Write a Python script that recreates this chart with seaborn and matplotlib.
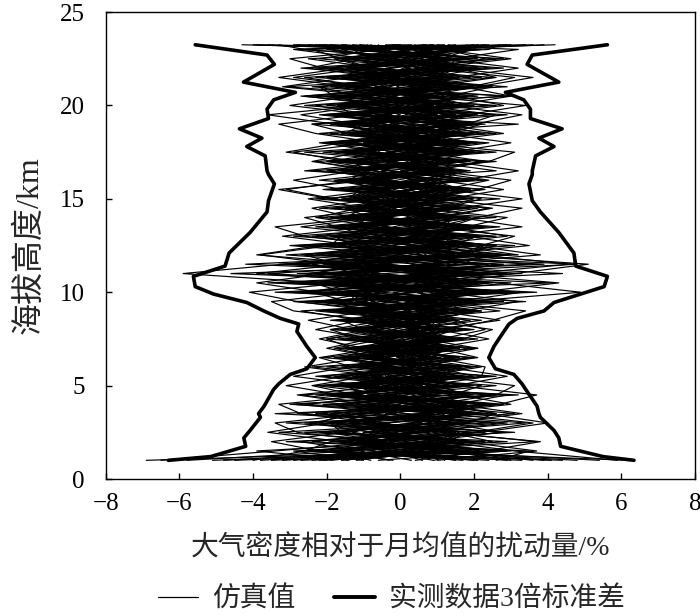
import numpy as np
import pandas as pd
import matplotlib
matplotlib.use("Agg")
import matplotlib.pyplot as plt
from matplotlib.lines import Line2D
import seaborn as sns

# ---------------- data ----------------
alt = [1.0, 1.5, 2.0, 2.5, 3.0, 3.5, 4.0, 4.5, 5.0, 5.5, 6.0, 6.5, 7.0, 7.5, 8.0, 8.5,
       9.0, 9.5, 10.0, 10.5, 11.0, 11.5, 12.0, 12.5, 13.0, 13.5, 14.0, 14.5, 15.0, 15.5,
       16.0, 16.5, 17.0, 17.5, 18.0, 18.5, 19.0, 19.5, 20.0, 20.5, 21.0, 21.5, 22.0, 22.5,
       23.0, 23.25]

run_01 = [-3.2, 1.1, -0.8, 1.9, -1.4, 0.6, 2.2, -0.9, 1.3, -1.6, 0.4, -0.7, 1.2, -0.3, 0.8, -1.5,
          1.9, -2.4, 3.1, -1.2, 2.6, -3.0, 0.9, 1.8, -1.7, 0.5, 1.4, -1.0, 0.3, 1.9, -0.6, 0.9,
          -1.8, 1.2, -0.4, 2.3, -1.1, 0.7, -2.6, 1.0, -0.5, 1.6, -1.3, 0.4, 2.1, -2.8]
run_02 = [4.1, -2.0, 1.5, -0.4, 2.7, -1.8, 0.3, 1.6, -2.1, 0.9, -1.1, 1.4, -0.2, 1.0, -1.3, 0.6,
          -1.2, 2.8, -3.4, 1.7, -4.6, 2.2, -1.5, -0.8, 2.3, -1.2, 0.2, 1.6, -1.9, -0.3, 1.1, -1.4,
          0.6, -2.1, 1.9, -0.5, 3.2, -1.6, 0.8, -1.0, 2.4, -0.7, 0.9, -2.2, -0.6, 3.4]
run_03 = [-5.8, -1.3, 2.9, -2.2, 0.4, 1.7, -2.6, 0.2, 0.7, 2.4, -0.6, 0.1, -1.4, 1.6, 0.2, 2.2,
          -0.4, -1.1, 1.6, -2.9, 3.3, -0.6, 2.5, -2.8, 0.8, 1.9, -1.6, 0.4, 1.2, -2.1, 0.5, 1.7,
          -0.9, 0.3, -1.5, 1.1, -0.2, 2.9, -1.7, 0.4, -3.1, 0.8, 2.2, -0.9, 1.0, -1.6]
run_04 = [2.6, 3.5, -1.9, 0.8, -3.1, 2.4, -0.5, -2.7, 1.9, -0.4, 1.6, -1.3, 0.6, -0.9, 1.7, -0.2,
          2.7, 0.6, -2.2, 4.1, -1.6, 1.2, -2.3, 0.7, -2.9, 0.6, 1.8, -0.7, -1.3, 1.0, -2.2, 0.2,
          1.4, -0.8, 0.6, -1.9, 1.7, -0.6, 2.0, -2.4, 0.9, -1.8, -0.2, 1.7, -1.5, 0.7]
run_05 = [-1.4, -3.9, 0.6, 2.7, 1.3, -0.9, 1.5, 2.9, -0.8, 1.2, -2.0, 0.9, -0.6, 2.1, -1.0, 0.4,
          -2.3, 1.4, 0.4, -1.8, 2.0, -4.2, 1.3, 2.6, -0.9, -1.7, 0.9, 2.4, -0.4, 1.3, -1.1, -0.5,
          2.6, -1.4, 0.2, 0.9, -2.4, 1.3, -0.7, 2.8, -1.2, 0.3, -2.7, 1.2, 0.5, -4.0]
run_06 = [5.4, 0.7, -1.2, -1.0, 2.0, -2.8, 0.9, -1.4, 0.3, -2.3, 0.8, -0.1, 1.9, -1.4, 0.5, -0.9,
          0.8, -2.6, 2.4, 0.3, -2.8, 3.5, -0.4, -1.6, 1.6, -0.3, -1.9, 1.1, 2.0, -0.8, 1.5, -2.6,
          -0.3, 1.9, -1.0, 1.5, 0.3, -2.2, 1.4, -0.3, 1.5, -2.3, 1.1, -0.1, -2.0, 2.0]
run_07 = [-2.1, 2.2, 0.2, -3.3, 1.0, 0.9, -1.6, 1.1, -1.5, 0.6, 2.2, -1.6, 0.9, 0.3, -0.7, 1.3,
          -1.8, 1.0, -0.7, 2.5, -1.1, -2.4, 3.0, 0.4, -0.4, 2.4, -0.8, -1.5, 0.7, 2.2, -0.4, 0.8,
          -1.3, 0.5, 2.4, -1.2, -0.6, 0.9, -2.0, 1.6, 0.2, 2.5, -0.8, -1.6, 1.8, 1.3]
run_08 = [0.9, -0.6, 3.7, 1.2, -2.2, -1.5, 2.8, -0.3, 2.6, -1.1, -0.3, 2.0, -1.2, 0.8, 1.1, -1.9,
          1.1, -0.2, 2.9, -3.6, 1.4, 0.5, -3.1, 1.5, 1.1, -2.3, 0.6, -0.2, 1.6, -1.5, 2.3, -0.8,
          0.4, -2.6, 1.3, -0.1, 1.1, -1.3, 2.6, -1.2, -2.2, 1.2, 0.4, 2.6, -1.1, -2.3]
run_09 = [-4.5, 1.8, -2.4, 0.3, 3.4, 0.1, -1.1, 2.0, -0.2, 1.9, -1.5, 0.5, 1.3, -2.0, 0.1, 1.9,
          -0.9, 3.4, -1.3, -0.4, 1.8, -3.3, 2.1, -1.3, -1.8, 1.3, 2.1, -1.2, 0.1, 0.6, -1.7, 1.5,
          -2.0, 1.7, -0.7, 2.0, -1.5, 0.2, -0.4, 2.1, -0.6, -1.4, 2.8, -0.4, 0.3, 4.2]
run_10 = [3.3, -2.7, 1.0, 1.5, -0.6, 3.1, 0.4, -1.8, 0.9, -0.8, 1.0, -2.1, 0.2, 1.2, -1.6, 0.0,
          1.6, -1.6, 0.2, 3.0, -2.2, 1.9, 0.5, -2.0, 2.6, -0.7, -1.4, 0.9, -2.3, 1.7, 0.8, -1.1,
          1.8, 0.0, -2.2, 0.6, 2.1, -1.0, 0.6, -1.6, 1.1, 0.5, -1.5, 2.1, -0.8, -1.1]
run_11 = [-0.6, 2.9, -3.1, 2.3, 0.5, -2.2, 1.8, -0.6, -1.2, 2.6, -0.9, 1.1, -0.4, 0.6, 1.3, -1.1,
          -2.7, 2.0, -2.5, -1.0, 4.4, -0.7, 1.7, 0.2, -0.6, 0.8, 1.1, -1.8, 0.9, -0.6, 1.9, 0.4,
          -1.0, 2.3, 0.5, -1.6, 0.8, 1.8, -1.2, 0.5, -1.9, 1.9, -0.6, -2.5, 2.4, 2.7]
run_12 = [6.2, -0.3, 1.8, -1.6, -1.9, 1.3, -3.0, 1.4, 2.2, -1.3, 0.2, 0.8, -1.7, 1.5, -0.3, -1.2,
          0.3, -0.8, 1.8, -2.3, 0.6, 2.8, -2.0, 1.1, -1.3, 2.0, -0.5, 1.3, -0.8, 0.2, -1.3, 2.6,
          0.7, -1.1, 1.6, -0.7, -1.4, 2.5, -0.1, -2.1, 2.9, -0.4, 1.4, 0.6, -2.6, -3.3]
run_13 = [-3.8, 0.4, -0.3, 2.8, -1.1, 1.9, -2.1, 3.2, -1.9, 0.3, 1.7, -0.8, 2.1, -0.6, 0.7, 1.0,
          -1.4, 2.3, -1.8, 1.2, -3.6, 0.9, 2.9, -2.5, 2.0, -1.1, 0.4, 2.1, -1.1, 1.1, -0.2, -2.0,
          1.2, 0.8, -1.8, 2.6, 0.1, -1.9, 1.9, 0.8, -0.9, -2.6, 1.8, 0.2, 0.9, 0.6]
run_14 = [1.7, -1.7, 2.3, -2.6, 2.4, -0.4, 0.6, -2.3, 1.4, 0.1, -2.4, 1.6, -0.2, -1.1, 2.0, -0.6,
          2.2, -0.5, 1.1, -2.6, 2.6, -1.4, -0.6, 3.1, -2.4, 0.1, 1.5, -0.4, 1.5, -1.9, 0.9, 1.2,
          -1.6, 1.3, 0.2, -1.4, 2.3, -0.8, -2.3, 1.2, 0.6, -1.0, 0.3, -1.4, 1.6, -2.1]
run_15 = [-6.9, 1.3, -1.5, 0.6, -2.6, 2.6, 1.2, 0.7, -0.5, 1.6, -0.2, -1.4, 1.6, 0.4, -1.2, 1.6,
          -0.1, -2.9, 3.7, -1.5, 1.0, -1.9, 1.2, -0.5, 0.3, 1.6, -2.2, 0.7, -0.1, 2.3, -0.9, 0.5,
          2.2, -1.7, 1.0, 0.4, -0.9, 1.5, -1.6, 3.0, -1.4, 1.3, -2.0, 1.1, -0.1, 1.5]
run_16 = [2.1, -2.4, 0.9, -0.2, 1.7, -3.4, 2.5, -1.2, 0.4, -1.8, 1.3, -0.5, 0.9, -1.7, 0.9, 0.7,
          -2.1, 1.3, -0.2, 2.2, -1.9, 3.9, -1.1, 0.9, -1.1, -0.9, 1.9, -2.2, 0.5, 0.9, -1.5, 1.9,
          -0.2, 1.0, -1.3, 0.6, 1.5, -0.4, 0.9, -1.8, 1.8, -0.1, -1.1, 2.8, -1.4, 3.6]
run_17 = [-2.7, 3.0, -0.9, 1.0, 0.3, 2.0, -1.4, -0.1, -2.3, 1.0, -0.7, 1.9, -1.0, 0.9, -0.5, -0.7,
          1.3, -1.9, 2.6, 0.6, -2.3, -1.2, 1.8, 2.4, 0.7, -1.9, 0.9, -0.9, 2.7, -1.2, 0.4, -0.7,
          -2.3, 2.1, -0.3, -0.6, 1.3, 0.4, -1.2, 0.2, -0.7, 2.2, -1.0, -0.8, 2.2, -0.4]
run_18 = [4.8, 0.2, -1.7, 3.1, -1.6, -1.0, 0.3, 1.8, 1.0, -2.1, 0.5, 0.3, -0.8, 1.8, -1.9, 1.5,
          0.5, 0.9, -3.0, 1.6, 0.3, 2.4, -2.7, -0.3, 1.5, 0.3, -1.0, 1.9, -1.5, 0.3, 1.4, -2.4,
          1.1, -0.4, 1.2, -2.2, 0.7, 1.2, 0.4, -0.9, 2.0, -1.6, 2.5, -0.3, 0.7, -2.5]
run_19 = [-1.0, -2.9, 2.0, -1.0, 1.9, 0.2, -2.9, 0.9, -1.0, 0.7, 1.9, -0.9, 0.4, -0.3, 1.4, -1.4,
          -0.3, 2.0, 0.8, -3.2, 1.6, -0.3, -1.8, 1.9, -0.4, 2.7, -1.2, 0.2, 1.0, -0.4, -1.8, 1.0,
          0.3, 1.5, -2.1, 1.3, -0.5, -1.5, 2.4, -0.5, -0.3, 0.7, -2.3, 1.5, -2.8, 0.3]
run_20 = [3.9, 1.5, -0.4, -2.0, 0.8, 1.2, 2.1, -2.0, 0.6, -0.6, -1.6, 1.3, 0.1, -0.7, 0.6, 0.9,
          2.0, -1.2, 1.5, 0.7, -1.4, 1.6, 0.1, -3.0, 1.8, -1.5, 2.6, -1.0, 0.2, 1.5, 0.1, -1.3,
          -1.1, 0.4, 1.9, -0.2, -1.9, 0.6, 1.2, 1.4, 0.4, -2.0, 0.6, 2.3, 1.2, -1.9]
run_21 = [-5.1, 0.9, 1.3, 1.8, -0.7, -1.9, 1.0, -0.8, 1.7, 0.4, -0.4, -1.8, 1.5, 0.1, -1.1, 0.3,
          -1.1, 0.3, -1.4, 2.0, 0.4, -2.9, 3.2, 1.4, -0.8, 1.0, -0.4, 1.4, -0.7, -1.4, 2.0, 0.0,
          1.7, -1.8, 0.4, 1.8, -0.8, 0.0, -1.0, 1.1, -2.4, 0.9, 1.6, -1.1, -0.3, 2.4]
run_22 = [0.3, -1.1, -2.7, 0.5, 2.9, -0.6, -0.6, 2.4, -1.7, 2.0, 0.9, -0.3, -1.5, 1.2, 0.3, -0.4,
          0.9, -2.2, 2.1, -1.3, 2.9, 0.8, -1.1, 0.6, 2.2, -0.5, -0.2, -1.3, 1.9, 0.7, -0.6, 1.1,
          -0.5, 0.9, -1.0, 2.2, 1.0, -1.1, 0.1, -2.7, 1.3, -0.6, 0.1, 1.0, -0.9, -0.9]
run_23 = [-3.5, 2.5, 0.5, -1.3, -0.3, 2.2, -1.9, 1.5, 0.0, 1.4, -1.2, 0.7, 1.1, -1.3, 1.0, -1.0,
          1.4, 1.6, -2.7, 0.0, -1.7, 1.0, 0.6, -1.9, -1.6, 1.4, 1.2, -0.6, -0.9, 1.6, -1.0, 0.6,
          0.9, -1.2, 1.4, -1.1, 2.0, -0.7, 1.6, -1.4, 0.5, 1.6, -1.4, 0.8, 1.3, -3.6]
run_24 = [2.9, -0.9, 1.1, -0.7, 1.5, -2.3, 0.0, 0.4, -0.6, -1.0, 1.4, -1.0, 0.7, 0.8, -1.4, 1.1,
          -1.6, 0.6, 1.2, -0.9, 2.2, -1.6, 2.3, -0.2, 0.5, -2.0, 0.7, 1.0, -2.0, 0.4, 1.0, -0.3,
          -0.8, 2.6, -0.5, 0.3, -1.1, 2.1, -0.8, 0.6, -1.6, -0.4, 0.8, -0.2, 1.7, 1.0]
run_25 = [-1.9, 0.6, -1.0, 2.1, -1.9, 0.5, 1.7, -1.6, 1.1, -1.6, 0.0, 1.5, -0.5, -0.2, 0.8, -1.7,
          0.2, -1.0, 0.3, 1.7, -0.5, 4.8, -0.9, 1.6, -0.2, 0.6, -1.6, 1.7, 0.4, -1.0, 1.6, -1.6,
          1.5, -0.6, -0.4, 1.0, 0.5, -1.8, 0.9, -0.2, 1.0, -1.2, 1.9, -0.6, -1.6, 0.0]
run_26 = [1.2, 1.0, -0.1, -0.9, 0.9, 1.4, -0.9, 2.6, -0.4, 0.2, -1.0, 0.4, -0.3, 1.4, -0.8, 0.3,
          -0.6, 2.5, -0.5, -1.1, 1.2, -0.9, -1.4, 2.0, 0.9, -0.5, 0.3, -0.6, 1.3, -0.2, 0.6, 1.4,
          -1.5, 0.2, 0.8, -1.5, 1.8, 0.5, -1.5, 1.9, -0.1, 0.3, -0.4, 1.8, 0.6, -1.3]
run_27 = [-0.3, -1.5, 1.7, 0.9, -0.5, -1.2, 2.6, -0.5, 2.0, -0.2, 0.6, -0.6, 1.6, -1.0, 0.1, 0.9,
          -0.8, -0.6, 1.7, -2.0, 0.7, -1.3, 1.9, -0.9, -2.2, 1.1, -0.9, 0.5, -0.4, 1.2, -0.4, -0.9,
          0.8, -0.3, 1.1, 0.2, -0.7, 1.0, -0.3, 0.6, -1.0, 1.0, -0.8, -1.8, 0.7, 2.1]
run_28 = [4.4, -2.2, -0.6, 1.2, 1.1, -0.2, 0.8, -1.1, -1.4, 1.2, 0.4, -0.9, 0.5, -0.4, 1.9, -0.3,
          1.0, -1.4, -0.9, 1.1, -0.8, 0.4, -0.8, 1.2, -0.7, 2.2, -0.3, -0.2, 1.0, -0.9, -0.6, 0.9,
          -0.4, 1.1, -0.6, 1.2, -0.2, -0.4, 1.1, -1.0, 1.7, -0.8, 0.5, 0.4, -0.4, -0.6]
run_29 = [-2.4, 1.6, 0.8, -0.4, -1.4, 0.9, -0.4, 0.9, 0.5, -0.4, -0.5, 0.6, -0.7, 0.5, -0.2, 0.6,
          0.6, 0.2, -1.0, 0.9, -1.0, 1.4, 0.0, -1.2, 1.3, -0.2, 1.0, -0.8, 0.7, 0.6, -1.1, 0.2,
          0.5, -0.9, 0.3, -0.4, 0.9, -0.3, 0.2, 0.9, -0.6, 0.2, 1.1, -0.5, 0.2, 0.4]
run_30 = [0.6, -0.3, -1.4, 0.2, 0.6, -0.7, 1.2, 0.0, -0.3, 0.8, -0.8, 0.2, 0.3, -0.5, 0.4, -0.5,
          -0.4, 0.5, 0.6, -0.5, 0.9, -0.4, 0.7, 0.3, -0.3, 0.5, -0.6, 0.3, -0.5, 0.4, 0.3, -0.5,
          0.2, 0.4, -0.5, 0.5, -0.3, 0.7, -0.6, -0.2, 0.4, -0.5, 0.2, 0.6, -0.7, -0.8]
run_31 = [-4.0, -2.6, -1.9, 0.4, 1.8, 2.6, 0.9, -1.2, -2.4, -0.9, 0.8, 1.5, 0.3, -1.1, -1.9, -0.4,
          1.7, 3.2, 1.1, -2.1, -5.9, -3.2, -0.6, 2.2, 3.1, 0.8, -1.3, -2.4, -0.7, 1.2, 2.4, 0.6,
          -1.5, -2.9, -0.8, 1.3, 2.2, 0.4, -1.7, -0.5, 1.9, 3.1, 0.7, -1.6, -2.4, 1.2]
run_32 = [5.9, 3.1, 1.2, -0.8, -2.4, -1.1, 0.9, 2.6, 3.1, 1.0, -1.3, -2.2, -0.6, 1.1, 2.3, 1.4,
          -0.7, -2.8, -4.1, -1.5, 1.9, 4.6, 2.1, -0.4, -2.6, -3.4, -0.9, 1.6, 3.3, 1.2, -0.4, -1.9,
          -0.6, 1.4, 3.0, 1.1, -1.2, -2.7, -0.9, 1.3, 2.5, 0.2, -2.1, -3.0, -0.4, -3.9]
run_33 = [-2.9, 0.2, 2.5, 1.3, -0.6, -2.7, -3.3, -0.8, 1.5, 2.9, 1.2, -0.5, -1.8, -0.4, 1.2, 2.5,
          3.4, 0.9, -2.2, -3.9, -2.0, 0.7, 3.8, 1.9, 0.2, -1.7, -2.6, -0.3, 1.3, 2.8, 1.0, -0.7,
          -2.4, -1.1, 0.6, 2.8, 1.1, -0.9, -3.0, -1.3, 0.8, 2.6, 1.5, -0.8, -1.3, 2.9]
run_34 = [0.4, 2.3, 3.8, 1.1, -1.0, 0.7, 3.0, 1.6, -0.9, -2.9, -1.4, 0.7, 2.1, 0.6, -1.3, -2.5,
          -0.8, 1.8, 4.9, 2.6, 0.3, -1.8, -3.8, -1.9, 0.6, 1.8, 2.9, 0.4, -1.8, -3.1, -1.2, 0.8,
          2.4, 3.1, 0.5, -1.4, -2.4, 0.6, 2.8, 1.5, -0.9, -2.9, -1.0, 1.4, 3.2, -0.2]
run_35 = [-6.5, -3.4, -0.5, 2.0, 3.6, 1.3, -1.0, -2.8, -0.3, 2.2, 2.3, 0.9, -1.0, -2.2, -0.9, 0.6,
          2.2, 0.4, -1.9, 1.3, 3.1, 5.1, 1.4, -1.2, -3.2, -1.0, 1.1, 2.5, 0.3, -1.6, -2.9, -1.2,
          0.8, 2.0, -0.6, -2.3, -3.3, -1.1, 1.4, 3.0, 1.7, -0.5, -2.5, -1.2, 1.6, -1.1]
run_36 = [3.0, 1.2, -1.6, -3.6, -2.0, 0.5, 2.7, 3.7, 1.5, -0.6, -2.6, -1.0, 0.9, 2.4, 1.0, -0.8,
          -2.9, -3.5, -1.2, 1.0, 2.4, -0.8, -3.9, -2.2, 1.1, 3.3, 1.6, -0.9, -2.5, -0.5, 1.7, 3.2,
          1.4, -0.7, -2.0, 0.3, 2.0, 3.3, 1.2, -0.6, -3.2, -1.4, 0.8, 3.0, 1.1, 3.9]
run_37 = [-0.2, -2.2, -3.5, -1.5, 0.7, 2.0, 0.2, -1.6, -3.1, -1.5, 0.2, 2.1, 1.0, -0.4, 0.9, 2.7,
          1.0, -1.4, -2.4, 0.3, -3.9, -1.5, 0.9, 3.5, 1.8, -0.6, -2.3, -1.1, 0.4, 2.1, 3.0, 0.9,
          -1.1, -3.1, -1.6, 0.4, 1.8, 2.6, 0.5, -1.8, -2.2, -0.1, 1.3, -0.9, -2.9, 0.9]
run_38 = [2.0, -0.4, -1.2, 2.2, 4.0, 2.3, 0.4, -1.3, 0.5, 1.7, -0.1, -1.7, -0.2, 1.7, 2.5, 0.7,
          -1.3, -0.3, 2.1, 4.3, 1.2, -1.0, 1.6, 2.6, -0.3, -2.7, -0.7, 1.2, 2.2, 0.5, -1.0, 0.8,
          2.3, 0.6, -1.5, -0.3, -1.8, -3.6, -1.0, 0.6, 2.1, 3.6, 1.4, -0.6, 0.8, -4.3]
run_39 = [-1.6, 1.4, -0.6, -2.8, -3.4, -1.0, 1.4, 0.3, -1.6, -0.2, 2.0, 0.3, -1.3, -2.0, -0.6, 1.3,
          -0.6, -2.1, 0.5, 2.4, -0.6, -2.6, -1.2, 0.5, 2.9, 1.3, -0.7, 0.6, -1.9, -3.3, -0.8, 1.0,
          -0.2, -1.6, 1.6, 0.7, -0.9, 1.8, 3.4, 0.5, -1.4, -3.3, -1.5, 0.2, -1.9, -1.9]
run_40 = [1.0, 3.7, 1.7, -0.5, 1.3, 3.3, 1.5, -0.7, -1.6, 0.3, 1.4, -0.6, -2.0, -0.8, -2.3, -1.1,
          0.4, 1.5, 3.3, -0.6, -1.8, 0.6, 2.8, 0.3, -1.9, 0.9, 2.1, 3.3, 1.0, -0.9, 2.0, -0.3,
          -2.0, -0.2, 2.2, -0.9, 0.8, 2.0, -0.4, -2.6, 0.2, 1.5, 3.2, 1.1, 1.9, 1.8]
run_41 = [-1.2, 0.8, 1.9, -0.5, -1.7, 1.1, 0.3, -2.0, 1.6, 0.5, -1.1, 0.8, 1.3, -0.9, -0.2, 1.2,
          -1.9, 0.7, 2.3, -1.8, 1.2, 2.6, -2.2, -0.9, 1.7, -1.4, 0.8, -1.9, 1.1, 0.2, -1.3, 1.6,
          -0.4, 1.8, -1.6, 0.1, 1.4, -2.1, 0.6, 1.7, -1.1, 0.4, 1.8, -1.7, 0.3, 2.3]
run_42 = [2.4, -1.8, -0.2, 1.4, -0.8, -1.9, 1.6, 0.6, -0.9, 1.7, -0.3, -1.5, 0.4, 1.6, -1.2, 0.2,
          1.3, -2.2, -0.8, 2.0, -2.5, -0.6, 1.4, 2.3, -1.5, 0.9, -0.7, 1.8, -1.6, 1.3, 0.5, -1.4,
          1.9, -0.9, -0.2, 1.6, -1.8, 1.0, -0.6, -1.9, 1.4, -1.5, -0.3, 1.5, -1.2, -1.5]
run_43 = [-2.2, 1.9, -1.4, -0.1, 1.5, -1.3, 1.0, 1.8, -1.3, -0.7, 1.2, -0.4, -1.1, 0.7, 1.5, -0.8,
          -0.4, 1.8, -1.6, 0.9, 1.9, -1.7, -2.6, 0.8, 1.2, -1.8, 1.6, 0.1, -1.4, -1.1, 1.7, -0.2,
          -1.2, 0.7, 1.7, -1.5, -1.0, 1.5, -1.4, 0.9, 1.6, -0.5, -1.8, 0.5, 1.4, -2.9]
run_44 = [1.5, -0.5, 0.7, -1.8, 1.2, 1.7, -1.2, -0.4, 1.9, -0.3, -0.6, 1.0, -1.4, 0.2, 1.0, -0.6,
          2.1, -0.6, 1.3, -1.1, -1.9, 1.7, 2.2, -1.4, -0.5, 1.7, -1.8, 0.9, 0.6, -1.6, 0.9, 1.8,
          -1.7, 0.4, 1.1, -1.0, 1.6, -1.4, 1.8, -0.5, -1.7, 1.4, 0.6, -1.3, 2.0, 2.1]
run_45 = [-0.8, -1.9, 1.2, 1.6, -1.2, -0.3, 1.6, -1.3, 0.2, 1.3, -1.4, -0.4, 0.8, -1.5, 0.4, 1.4,
          -1.1, -1.8, 2.4, 0.7, -1.3, 1.1, -1.6, 1.4, 2.1, -0.8, -1.2, 1.5, -0.3, 1.9, -1.4, -0.9,
          1.4, -1.7, 0.9, -0.3, -1.6, 1.9, 0.2, -1.2, 0.8, -1.9, 1.3, 1.5, -1.1, 3.0]
run_46 = [3.6, 1.1, -1.6, 0.5, -0.4, 2.1, -0.8, 0.7, -1.4, 1.5, 0.9, -1.2, 0.0, 1.1, -1.0, -1.6,
          0.6, 1.2, -1.5, -2.4, 2.7, -1.0, 1.2, -1.7, 0.4, 2.1, -1.5, -1.0, 1.8, -0.6, -1.5, 1.2,
          0.6, -1.5, 2.0, 0.6, -1.3, -0.5, 1.5, 1.1, -1.5, 1.2, -1.2, 0.9, -0.9, -0.2]
run_47 = [-4.8, 0.1, 1.4, -1.7, 0.3, 1.5, -0.2, -1.6, 1.0, -1.2, 1.5, 0.1, -0.9, 1.3, -1.2, 0.8,
          -1.5, 2.0, 0.4, -1.6, 0.8, -2.1, 1.9, -0.3, -1.9, 0.5, 1.8, -1.5, 0.3, 1.1, -0.8, 1.4,
          -1.8, 1.6, -0.9, 1.4, -0.4, -1.6, 1.2, -1.1, 2.3, -0.2, -1.3, 1.9, 0.5, -2.2]
run_48 = [0.9, 2.0, -1.1, 0.2, -2.0, 0.6, 1.4, -0.7, -1.1, 0.9, 0.4, -1.0, 1.1, -0.1, -1.6, 1.0,
          0.8, -1.2, -1.4, 1.5, 0.9, -1.2, 0.3, 1.5, -0.9, -1.3, 1.3, 0.4, -1.2, 1.6, 0.6, -1.7,
          0.5, -0.2, -1.4, 1.7, 0.9, -1.3, -1.7, 0.6, 0.9, -0.9, 2.1, -1.0, 1.4, 0.8]

env_alt = [1.0, 1.2, 1.75, 2.2, 2.6, 3.3, 3.5, 3.9, 4.8, 5.1, 5.6, 5.9, 6.5, 7.1, 7.9, 8.3,
           8.6, 9.0, 9.45, 9.9, 10.3, 10.85, 11.4, 12.1, 13.2, 14.3, 14.9, 15.8, 16.3, 16.5,
           17.3, 17.8, 18.25, 18.75, 19.3, 19.8, 20.3, 20.7, 21.25, 22.2, 22.7, 23.25]
env_left = [-6.3, -5.15, -4.2, -4.25, -4.08, -3.8, -3.85, -3.7, -3.44, -3.3, -2.99, -2.54,
            -2.31, -2.54, -2.81, -2.76, -3.26, -3.71, -4.17, -5.07, -5.57, -5.62, -4.76, -4.65,
            -4.08, -3.62, -3.58, -3.42, -3.58, -3.62, -3.67, -4.17, -3.76, -4.37, -3.58, -3.62,
            -3.44, -2.85, -4.26, -3.42, -3.62, -5.57]
env_right = [6.34, 5.5, 4.35, 4.3, 4.17, 3.8, 3.76, 3.71, 3.4, 3.3, 3.08, 2.58,
             2.4, 2.54, 2.81, 2.95, 3.17, 3.9, 4.17, 4.89, 5.53, 5.62, 4.76, 4.71,
             4.3, 3.8, 3.58, 3.49, 3.58, 3.58, 3.67, 4.17, 3.76, 4.39, 3.53, 3.53,
             3.35, 2.85, 4.30, 3.44, 3.58, 5.62]

x_ticks = [-8, -6, -4, -2, 0, 2, 4, 6, 8]
y_ticks = [0, 5, 10, 15, 20, 25]
x_label = "大气密度相对于月均值的扰动量/%"
y_label = "海拔高度/km"
legend_labels = ["仿真值", "实测数据3倍标准差"]

sim_runs = [run_01, run_02, run_03, run_04, run_05, run_06, run_07, run_08, run_09, run_10,
            run_11, run_12, run_13, run_14, run_15, run_16, run_17, run_18, run_19, run_20,
            run_21, run_22, run_23, run_24, run_25, run_26, run_27, run_28, run_29, run_30,
            run_31, run_32, run_33, run_34, run_35, run_36, run_37, run_38, run_39, run_40,
            run_41, run_42, run_43, run_44, run_45, run_46, run_47, run_48]

# ---------------- tables ----------------
sim_df = pd.DataFrame({
    "run": np.repeat(np.arange(len(sim_runs)), len(alt)),
    "alt": np.tile(alt, len(sim_runs)),
    "val": np.concatenate([np.asarray(r, float) for r in sim_runs]),
})
env_df = pd.DataFrame({
    "side": ["L"] * len(env_alt) + ["R"] * len(env_alt),
    "alt": env_alt + env_alt,
    "val": env_left + env_right,
})

# ---------------- style ----------------
sns.set_theme(style="ticks")
fam = ["Liberation Serif", "Noto Sans CJK SC", "DejaVu Sans"]
plt.rcParams["font.family"] = fam
plt.rcParams.update({
    "xtick.direction": "in", "ytick.direction": "in",
    "xtick.major.size": 4, "ytick.major.size": 4,
    "xtick.major.width": 1.0, "ytick.major.width": 1.0,
    "axes.linewidth": 1.0, "axes.edgecolor": "black",
    "xtick.color": "black", "ytick.color": "black",
    "axes.unicode_minus": True,
})

fig = plt.figure(figsize=(7.0, 6.16), dpi=100)
ax = fig.add_axes([0.151, 0.2224, 0.842, 0.758])

sns.lineplot(data=sim_df, x="val", y="alt", units="run", estimator=None, sort=False,
             orient="y", color="black", linewidth=0.85, ax=ax, legend=False)
sns.lineplot(data=env_df, x="val", y="alt", units="side", estimator=None, sort=False,
             orient="y", color="black", linewidth=2.6, ax=ax, legend=False)

ax.set_xlim(-8, 8)
ax.set_ylim(0, 25)
ax.set_xticks(x_ticks)
ax.set_yticks(y_ticks)
ax.tick_params(axis="both", labelsize=18, top=False, right=False)
ax.tick_params(axis="y", pad=15)
ax.tick_params(axis="x", pad=10)
ax.set_xlabel(x_label, fontsize=20, labelpad=15, family=fam)
ax.set_ylabel(y_label, fontsize=23, family=fam)
ax.yaxis.set_label_coords(-0.103, 0.5)
for s in ax.spines.values():
    s.set_visible(True)
    s.set_color("black")

handles = [Line2D([], [], color="black", linewidth=0.9),
           Line2D([], [], color="black", linewidth=2.8)]
fig.legend(handles, legend_labels, loc="center", bbox_to_anchor=(0.559, 0.026),
           ncol=2, frameon=False, prop={"family": fam, "size": 20},
           handlelength=1.45, handletextpad=0.5, columnspacing=1.4)

fig.savefig("out.png", dpi=100)
